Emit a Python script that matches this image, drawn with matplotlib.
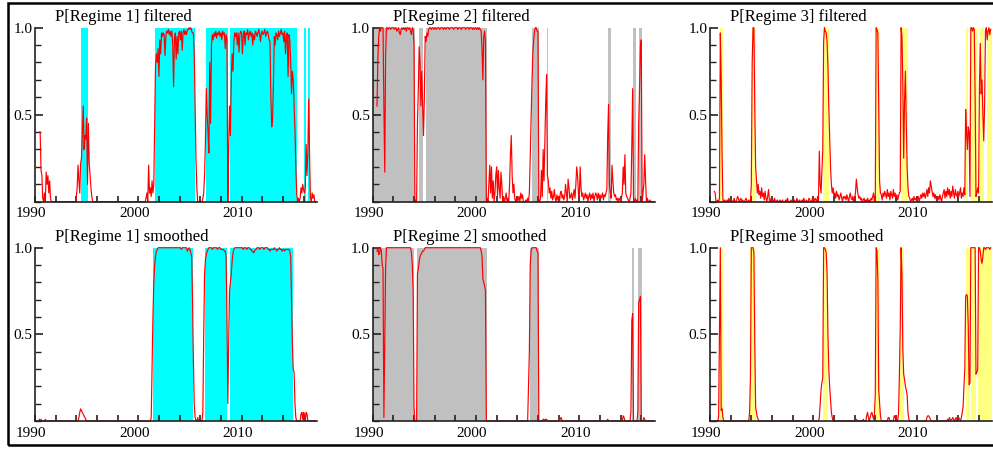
import numpy as np
import matplotlib
matplotlib.use("Agg")
import matplotlib.pyplot as plt
from matplotlib.ticker import MultipleLocator
from matplotlib.transforms import ScaledTranslation
from matplotlib.patches import Rectangle

plt.rcParams["font.family"] = ["Liberation Serif", "DejaVu Serif"]

# monthly probabilities, first observation 1990(6), last 2017(3)
start_year, start_month = 1990, 6

p1_filtered = [
    0.40, 0.40, 0.18, 0.15, 0.02, 0, 0.05,
    0, 0.17, 0.10, 0.15, 0.05, 0.12, 0.02, 0, 0, 0, 0, 0,
    0, 0, 0, 0, 0, 0, 0, 0, 0, 0, 0, 0,
    0, 0, 0, 0, 0, 0, 0, 0, 0, 0, 0, 0,
    0.03, 0.08, 0.21, 0.12, 0.05, 0.22, 0.25, 0.40, 0.55, 0.30, 0.38, 0.36,
    0.48, 0.10, 0.45, 0.22, 0.15, 0.08, 0.03, 0, 0, 0, 0, 0,
    0, 0, 0, 0, 0, 0, 0, 0, 0, 0, 0, 0,
    0, 0, 0, 0, 0, 0, 0, 0, 0, 0, 0, 0,
    0, 0, 0, 0, 0, 0, 0, 0, 0, 0, 0, 0,
    0, 0, 0, 0, 0, 0, 0, 0, 0, 0, 0, 0,
    0, 0, 0, 0, 0, 0, 0, 0, 0, 0.02, 0.05, 0,
    0.21, 0.05, 0.08, 0.03, 0.12, 0.05, 0.10, 0.45, 0.78, 0.85, 0.80, 0.88,
    0.72, 0.93, 0.85, 0.97, 0.95, 0.97, 0.96, 0.84, 0.95, 0.98, 0.97, 0.99,
    0.96, 0.98, 0.95, 0.98, 0.90, 0.66, 0.93, 0.97, 0.82, 0.95, 0.85, 0.97,
    0.98, 0.93, 0.98, 0.87, 0.97, 0.99, 0.96, 0.98, 0.96, 0.99, 0.99, 1.00,
    0.99, 1.00, 0.98, 0.97, 0.97, 0.85, 0.55, 0.25, 0.08, 0, 0, 0,
    0, 0, 0, 0.02, 0.05, 0.15, 0.35, 0.65, 0.50, 0.40, 0.28, 0.80,
    0.45, 0.90, 0.96, 0.93, 0.97, 0.95, 0.98, 0.94, 0.97, 0.96, 0.98, 0.95,
    0.97, 0.93, 0.98, 0.96, 0.97, 0.88, 0.96, 0.93, 0, 0.30, 0.55, 0.38,
    0.70, 0.85, 0.75, 0.92, 0.97, 0.95, 0.97, 0.90, 0.97, 0.86, 0.96, 0.98,
    0.97, 0.85, 0.96, 0.98, 0.90, 0.97, 0.96, 0.99, 0.93, 0.97, 0.98, 0.95,
    0.97, 0.90, 0.96, 0.93, 0.98, 0.97, 0.95, 0.97, 0.99, 0.96, 0.92, 0.97,
    0.98, 0.96, 0.97, 0.99, 0.95, 0.97, 0.98, 0.96, 0.93, 0.92, 0.60, 0.43,
    0.48, 0.68, 0.95, 0.90, 0.97, 0.96, 0.93, 0.98, 0.95, 0.97, 0.99, 0.96,
    0.97, 0.92, 0.98, 0.85, 0.95, 0.97, 0.72, 0.96, 0.93, 0.81, 0.62, 0.75,
    0.70, 0.55, 0.41, 0.20, 0.05, 0, 0.02, 0, 0.02, 0.08, 0.05, 0.10,
    0.07, 0.05, 0.08, 0.33, 0.15, 0.30, 0.59, 0.25, 0.02, 0, 0.05, 0.02,
    0.04, 0, 0,
]

p1_smoothed = [
    0.01, 0, 0.01, 0, 0, 0, 0,
    0.01, 0, 0, 0, 0, 0, 0, 0, 0, 0, 0, 0,
    0, 0, 0, 0, 0, 0, 0, 0, 0, 0, 0, 0,
    0, 0, 0, 0, 0, 0, 0, 0, 0, 0, 0, 0,
    0, 0, 0, 0.02, 0.05, 0.07, 0.06, 0.05, 0.04, 0.03, 0.02, 0.01,
    0, 0, 0, 0, 0, 0, 0, 0, 0, 0, 0, 0,
    0, 0, 0, 0, 0, 0, 0, 0, 0, 0, 0, 0,
    0, 0, 0, 0, 0, 0, 0, 0, 0, 0, 0, 0,
    0, 0, 0, 0, 0, 0, 0, 0, 0, 0, 0, 0,
    0, 0, 0, 0, 0, 0, 0, 0, 0, 0, 0, 0,
    0, 0, 0, 0, 0, 0, 0, 0, 0, 0, 0, 0,
    0, 0, 0, 0.02, 0.30, 0.60, 0.80, 0.90, 0.95, 0.98, 0.99, 1.00,
    1.00, 1.00, 1.00, 1.00, 1.00, 1.00, 1.00, 1.00, 1.00, 1.00, 1.00, 1.00,
    1.00, 1.00, 1.00, 1.00, 1.00, 1.00, 1.00, 1.00, 1.00, 1.00, 1.00, 1.00,
    1.00, 1.00, 0.99, 1.00, 1.00, 1.00, 1.00, 1.00, 1.00, 0.98, 0.99, 1.00,
    0.99, 0.97, 0.95, 0.70, 0.35, 0.10, 0.02, 0, 0, 0.02, 0, 0,
    0, 0, 0, 0.05, 0.50, 0.85, 0.93, 0.96, 0.98, 0.99, 1.00, 1.00,
    1.00, 1.00, 0.99, 1.00, 1.00, 1.00, 1.00, 1.00, 0.99, 1.00, 1.00, 1.00,
    0.99, 0.99, 0.99, 0.99, 0.98, 0.98, 0.95, 0.60, 0.10, 0.45, 0.75, 0.80,
    0.85, 0.92, 0.97, 0.99, 1.00, 1.00, 1.00, 1.00, 1.00, 1.00, 1.00, 1.00,
    1.00, 1.00, 0.99, 1.00, 1.00, 1.00, 0.99, 1.00, 1.00, 1.00, 0.99, 0.99,
    0.98, 0.98, 0.97, 0.98, 0.99, 0.99, 1.00, 1.00, 1.00, 0.99, 1.00, 1.00,
    1.00, 1.00, 0.99, 1.00, 1.00, 1.00, 1.00, 0.99, 0.99, 0.98, 0.99, 0.99,
    0.99, 0.99, 1.00, 0.99, 0.99, 0.98, 0.99, 0.99, 1.00, 0.99, 0.99, 0.98,
    0.99, 0.99, 0.98, 0.99, 0.99, 0.99, 0.99, 0.99, 0.98, 0.95, 0.70, 0.45,
    0.30, 0.28, 0.10, 0.02, 0, 0, 0, 0, 0, 0.04, 0.05, 0.01,
    0.05, 0.04, 0, 0.05, 0.04, 0, 0, 0, 0, 0, 0, 0,
    0, 0, 0,
]

p2_filtered = [
    0.55, 0.82, 0.95, 1.00, 0.98, 1.00, 1.00,
    1.00, 0.55, 0.17, 0.85, 1.00, 1.00, 0.99, 1.00, 1.00, 0.99, 1.00, 1.00,
    1.00, 0.99, 1.00, 1.00, 0.98, 0.99, 1.00, 0.97, 0.96, 0.99, 1.00, 0.99,
    1.00, 0.99, 1.00, 0.98, 1.00, 1.00, 0.99, 1.00, 0.98, 0.96, 1.00, 0.99,
    0.90, 0.02, 0, 0, 0.45, 0.65, 0.89, 0.80, 0.55, 0.75, 0.55, 0.38,
    0.60, 0.95, 0.92, 0.97, 0.95, 0.99, 1.00, 1.00, 0.99, 1.00, 1.00, 0.99,
    1.00, 1.00, 0.99, 1.00, 1.00, 1.00, 0.99, 1.00, 1.00, 1.00, 0.99, 1.00,
    1.00, 0.99, 1.00, 1.00, 1.00, 0.99, 1.00, 1.00, 1.00, 1.00, 0.99, 1.00,
    1.00, 1.00, 1.00, 0.99, 1.00, 1.00, 1.00, 0.99, 1.00, 1.00, 1.00, 1.00,
    0.99, 1.00, 1.00, 1.00, 0.99, 1.00, 1.00, 1.00, 0.99, 1.00, 0.99, 1.00,
    1.00, 0.99, 1.00, 0.99, 1.00, 0.99, 0.98, 0.88, 0.70, 0.95, 0.98, 0.92,
    0, 0.02, 0, 0.10, 0.21, 0.05, 0.20, 0.02, 0.12, 0, 0.05, 0.15,
    0.20, 0.03, 0.18, 0.08, 0.02, 0.17, 0.10, 0, 0.03, 0, 0.02, 0.05,
    0, 0.02, 0, 0.10, 0.27, 0.38, 0.15, 0.05, 0.10, 0.02, 0, 0.02,
    0, 0.01, 0.03, 0, 0.05, 0.02, 0.04, 0, 0, 0, 0.01, 0,
    0.02, 0, 0.05, 0.26, 0.45, 0.68, 0.85, 0.93, 0.98, 1.00, 1.00, 0.98,
    0.98, 0, 0, 0.02, 0.18, 0.03, 0.30, 0.12, 0.35, 0.57, 0.73, 0.15,
    0.12, 0.05, 0.08, 0.02, 0.06, 0.01, 0.03, 0.07, 0.02, 0, 0.04, 0.01,
    0.03, 0, 0.05, 0.06, 0.02, 0.04, 0.01, 0.03, 0.10, 0.05, 0, 0.13,
    0.08, 0.02, 0.03, 0.05, 0.01, 0.04, 0.07, 0.02, 0.10, 0.20, 0.15, 0.05,
    0.02, 0.20, 0.08, 0.03, 0.05, 0.01, 0.03, 0.05, 0.02, 0.04, 0, 0.03,
    0.05, 0.01, 0.04, 0.02, 0.05, 0, 0.03, 0.05, 0.04, 0.01, 0.05, 0.02,
    0.04, 0.02, 0.03, 0.05, 0.01, 0.04, 0.03, 0.05, 0.07, 0.38, 0.56, 0.10,
    0.05, 0.02, 0.21, 0.12, 0.05, 0.03, 0.04, 0.01, 0.02, 0, 0.02, 0.01,
    0, 0.02, 0.05, 0.20, 0.10, 0.27, 0.05, 0.03, 0.02, 0.01, 0, 0.02,
    0.05, 0.32, 0.65, 0, 0, 0.02, 0, 0.01, 0, 0.45, 0.65, 0.89,
    0.93, 0, 0.05, 0.10, 0.27, 0.12, 0, 0.02, 0, 0, 0.01, 0,
    0, 0, 0,
]

p2_smoothed = [
    0.98, 1.00, 0.96, 0.97, 1.00, 0.98, 0.90,
    0.88, 0.02, 0.45, 0.88, 1.00, 1.00, 1.00, 1.00, 1.00, 1.00, 1.00, 1.00,
    1.00, 1.00, 1.00, 1.00, 1.00, 1.00, 1.00, 1.00, 1.00, 1.00, 1.00, 1.00,
    1.00, 1.00, 1.00, 1.00, 1.00, 1.00, 1.00, 1.00, 1.00, 0.97, 0.90, 0.75,
    0.08, 0, 0, 0, 0.85, 0.88, 0.92, 0.95, 0.96, 0.97, 0.98, 0.98,
    0.99, 1.00, 1.00, 1.00, 1.00, 1.00, 1.00, 1.00, 1.00, 1.00, 1.00, 1.00,
    1.00, 1.00, 1.00, 1.00, 1.00, 1.00, 1.00, 1.00, 1.00, 1.00, 1.00, 1.00,
    1.00, 1.00, 1.00, 1.00, 1.00, 1.00, 1.00, 1.00, 1.00, 1.00, 1.00, 1.00,
    1.00, 1.00, 1.00, 1.00, 1.00, 1.00, 1.00, 1.00, 1.00, 1.00, 1.00, 1.00,
    1.00, 1.00, 1.00, 1.00, 1.00, 1.00, 1.00, 1.00, 1.00, 1.00, 1.00, 1.00,
    1.00, 1.00, 1.00, 1.00, 1.00, 1.00, 0.98, 0.95, 0.82, 0.80, 0.78, 0.75,
    0, 0, 0, 0, 0, 0, 0, 0, 0, 0, 0, 0,
    0, 0, 0, 0, 0, 0, 0, 0, 0, 0, 0, 0,
    0, 0, 0, 0, 0, 0, 0, 0, 0, 0, 0, 0,
    0, 0, 0, 0, 0, 0, 0, 0, 0, 0, 0, 0,
    0, 0.20, 0.40, 0.90, 0.98, 1.00, 1.00, 1.00, 1.00, 1.00, 1.00, 0.98,
    0.97, 0, 0, 0, 0, 0, 0.01, 0.01, 0, 0.01, 0.01, 0,
    0, 0, 0, 0, 0, 0, 0, 0, 0, 0, 0, 0,
    0, 0.02, 0.01, 0.02, 0, 0, 0, 0, 0, 0, 0, 0,
    0, 0, 0, 0, 0, 0, 0, 0, 0, 0, 0, 0,
    0, 0, 0, 0, 0, 0, 0, 0, 0, 0, 0, 0,
    0, 0, 0, 0, 0, 0, 0, 0, 0, 0, 0, 0,
    0, 0, 0, 0, 0, 0, 0, 0, 0, 0.01, 0, 0,
    0, 0, 0, 0, 0, 0, 0, 0, 0, 0, 0, 0,
    0, 0, 0, 0.03, 0.02, 0, 0, 0, 0, 0, 0, 0,
    0.05, 0.58, 0.62, 0, 0, 0, 0, 0, 0.05, 0.68, 0.70, 0.72,
    0, 0, 0, 0.02, 0.01, 0, 0, 0, 0, 0, 0, 0,
    0, 0, 0,
]

p3_filtered = [
    0.06, 0.05, 0, 0, 0.01, 0, 0.02,
    0.97, 0.71, 0.27, 0.01, 0, 0.01, 0, 0, 0.01, 0, 0.02, 0,
    0, 0.01, 0, 0, 0.02, 0, 0, 0.01, 0.03, 0.02, 0, 0.01,
    0.02, 0, 0.01, 0, 0, 0.01, 0.02, 0, 0, 0.01, 0, 0,
    0.10, 0.80, 1.00, 1.00, 0.55, 0.20, 0.12, 0.05, 0.10, 0.04, 0.06, 0.02,
    0.08, 0.03, 0.05, 0.01, 0.06, 0.02, 0, 0.03, 0.07, 0.01, 0, 0.02,
    0, 0.01, 0, 0.02, 0, 0, 0.01, 0, 0, 0.01, 0, 0,
    0.01, 0, 0, 0, 0.01, 0, 0.02, 0, 0, 0, 0.01, 0,
    0, 0, 0.01, 0, 0, 0.02, 0, 0, 0.01, 0, 0, 0.01,
    0, 0.02, 0, 0, 0.01, 0, 0, 0.02, 0.01, 0, 0, 0.02,
    0.01, 0, 0.02, 0.01, 0, 0.03, 0, 0.29, 0.10, 0.05, 0.18, 0.30,
    0.92, 1.00, 0.98, 0.97, 0.92, 0.78, 0.55, 0.38, 0.20, 0.10, 0.05, 0.08,
    0.03, 0.05, 0.02, 0.06, 0.03, 0.04, 0.01, 0.03, 0.05, 0.02, 0, 0.03,
    0.02, 0.03, 0.01, 0.04, 0.02, 0, 0.03, 0.05, 0.02, 0.01, 0.03, 0,
    0.02, 0.05, 0.13, 0.08, 0.04, 0.02, 0.03, 0.01, 0.02, 0, 0.01, 0.02,
    0, 0.01, 0, 0.02, 0, 0.01, 0, 0.02, 0.01, 0.03, 0.05, 0,
    0.02, 1.00, 0.99, 0.97, 0.56, 0.12, 0.05, 0.04, 0.01, 0.05, 0.03, 0.06,
    0.04, 0.02, 0.07, 0.03, 0.05, 0.01, 0.06, 0.04, 0.02, 0.07, 0.03, 0.05,
    0.02, 0.04, 0.01, 0.03, 0.05, 0.06, 1.00, 0.95, 0.67, 0.25, 0.58, 0.75,
    0.45, 0.20, 0.08, 0.03, 0.02, 0, 0.01, 0.02, 0, 0.03, 0.01, 0.02,
    0.01, 0.02, 0.03, 0, 0.02, 0.04, 0.02, 0.05, 0.03, 0.05, 0.02, 0.04,
    0.07, 0.03, 0.08, 0.05, 0.12, 0.09, 0.06, 0.03, 0.05, 0.02, 0.04, 0.01,
    0.02, 0.03, 0.01, 0.04, 0.02, 0, 0.03, 0.05, 0.07, 0.02, 0.06, 0.03,
    0.08, 0.04, 0.07, 0.02, 0.06, 0.03, 0.09, 0.05, 0.02, 0.07, 0.04, 0.03,
    0.06, 0.03, 0.05, 0.08, 0.02, 0.05, 0.03, 0.08, 0.04, 0.53, 0.40, 0.30,
    0.43, 0.40, 0.03, 1.00, 1.00, 0.98, 1.00, 0.99, 0.60, 0.03, 0.05, 0.08,
    0.05, 0.66, 0.91, 0.62, 0.70, 0.50, 0.35, 0.55, 0.98, 1.00, 0.93, 0.98,
    1.00, 0.96, 0.99,
]

p3_smoothed = [
    0, 0, 0, 0, 0, 0.02, 0.54,
    1.00, 0.06, 0.07, 0.02, 0, 0, 0, 0, 0, 0, 0, 0,
    0, 0, 0, 0, 0, 0, 0, 0, 0, 0, 0, 0,
    0, 0, 0, 0, 0, 0, 0, 0, 0, 0, 0.05, 0.26,
    1.00, 1.00, 1.00, 0.97, 0.45, 0.08, 0.05, 0.02, 0.01, 0, 0, 0,
    0, 0, 0, 0, 0, 0, 0, 0, 0, 0, 0, 0,
    0, 0, 0, 0, 0, 0, 0, 0, 0, 0, 0, 0,
    0, 0, 0, 0, 0, 0, 0, 0, 0, 0, 0, 0,
    0, 0, 0, 0, 0, 0, 0, 0, 0, 0, 0, 0,
    0, 0, 0, 0, 0, 0, 0, 0, 0, 0, 0, 0,
    0, 0, 0, 0, 0, 0, 0, 0.02, 0.10, 0.18, 0.22, 0.25,
    1.00, 1.00, 0.99, 0.97, 0.85, 0.50, 0.30, 0.20, 0.12, 0.05, 0.02, 0,
    0, 0, 0, 0, 0, 0, 0, 0, 0, 0, 0, 0,
    0, 0, 0, 0, 0, 0, 0, 0, 0, 0, 0, 0,
    0, 0, 0.01, 0, 0, 0, 0, 0, 0, 0, 0.01, 0,
    0, 0, 0.03, 0.05, 0.02, 0, 0.02, 0.04, 0.05, 0.03, 0.01, 0.04,
    0.15, 1.00, 0.98, 0.82, 0.18, 0.10, 0.03, 0, 0, 0, 0, 0,
    0, 0, 0, 0.02, 0.02, 0, 0, 0, 0, 0, 0.03, 0.02,
    0.03, 0, 0, 0.04, 0.26, 0.54, 1.00, 0.85, 0.41, 0.27, 0.24, 0.20,
    0.18, 0.15, 0.05, 0.01, 0, 0, 0, 0, 0, 0, 0, 0,
    0, 0, 0, 0, 0, 0, 0, 0, 0, 0, 0, 0,
    0.02, 0.03, 0.03, 0.02, 0.01, 0, 0, 0, 0, 0, 0, 0,
    0, 0, 0, 0, 0, 0, 0, 0, 0, 0, 0, 0,
    0.01, 0, 0.02, 0.01, 0, 0.01, 0.02, 0.01, 0, 0.01, 0.02, 0,
    0.01, 0.02, 0.01, 0, 0.02, 0.05, 0.08, 0.20, 0.30, 0.72, 0.73, 0.72,
    0.55, 0.21, 0.22, 1.00, 1.00, 1.00, 1.00, 1.00, 1.00, 0.27, 0.28, 0.30,
    1.00, 1.00, 0.98, 0.93, 0.91, 0.95, 1.00, 1.00, 0.99, 1.00, 1.00, 1.00,
    1.00, 0.99, 1.00,
]

# periods classified to each regime (shaded bands), in years
p1_filtered_bands = [(1994.45, 1995.15), (2001.6, 2005.52), (2006.55, 2008.65),
                     (2008.87, 2015.4), (2016.03, 2016.2), (2016.42, 2016.62)]
p1_smoothed_bands = [(2001.4, 2005.32), (2006.42, 2008.6), (2008.87, 2015.0)]
p2_filtered_bands = [(1990.0, 1994.1), (1994.5, 1994.9), (1995.16, 2001.03),
                     (2005.4, 2006.13), (2006.84, 2007.0), (2012.8, 2013.03),
                     (2015.23, 2015.45), (2015.77, 2016.1)]
p2_smoothed_bands = [(1990.0, 1994.0), (1994.32, 2001.03), (2005.23, 2006.13),
                     (2015.13, 2015.32), (2015.7, 2016.03)]
p3_filtered_bands = [(1990.97, 1991.3), (1994.03, 1994.42), (2000.97, 2001.5),
                     (2006.1, 2006.42), (2008.5, 2009.15), (2014.75, 2015.0),
                     (2015.3, 2015.8), (2016.15, 2016.55), (2016.77, 2017.3)]
p3_smoothed_bands = [(1990.97, 1991.23), (1993.87, 1994.45), (2000.97, 2001.45),
                     (2006.06, 2006.42), (2008.42, 2008.8), (2014.8, 2015.16),
                     (2015.26, 2015.78), (2015.95, 2017.3)]

titles = ["P[Regime 1] filtered", "P[Regime 2] filtered", "P[Regime 3] filtered",
          "P[Regime 1] smoothed", "P[Regime 2] smoothed", "P[Regime 3] smoothed"]
band_colors = ["#00FFFF", "#C0C0C0", "#FFFF80"]

panels = [
    (p1_filtered, p1_filtered_bands), (p2_filtered, p2_filtered_bands), (p3_filtered, p3_filtered_bands),
    (p1_smoothed, p1_smoothed_bands), (p2_smoothed, p2_smoothed_bands), (p3_smoothed, p3_smoothed_bands),
]

W, H = 993, 450
fig = plt.figure(figsize=(W / 100, H / 100), dpi=100)

col_left = [35, 372.7, 710]     # pixel x of the y axis
row_top = [27.7, 247.7]         # pixel y of 1.0
row_bottom = [201.7, 421.0]     # pixel y of 0
ax_width = 282
xmin, xmax = 1990, 2017.3

for k, ((values, bands), title) in enumerate(zip(panels, titles)):
    r, c = divmod(k, 3)
    ax = fig.add_axes([col_left[c] / W, 1 - row_bottom[r] / H,
                       ax_width / W, (row_bottom[r] - row_top[r]) / H])
    t = start_year + (start_month - 1 + np.arange(len(values))) / 12
    for a, b in bands:
        ax.axvspan(a, b, color=band_colors[c], lw=0, zorder=1)
    ax.plot(t, values, color="red", lw=0.85, zorder=3, clip_on=False)

    ax.set_xlim(xmin, xmax)
    ax.set_ylim(0, 1)
    for side in ("top", "right"):
        ax.spines[side].set_visible(False)
    for side in ("left", "bottom"):
        ax.spines[side].set_linewidth(1.2)
        ax.spines[side].set_color("#222222")
        ax.spines[side].set_zorder(4)

    xt = np.arange(1990, 2018, 2)
    ax.set_xticks(xt)
    ax.set_xticklabels([str(y) if y % 10 == 0 else "" for y in xt])
    ax.set_yticks([0.5, 1.0])
    ax.set_yticklabels(["0.5", "1.0"])
    ax.yaxis.set_minor_locator(MultipleLocator(0.1))
    ax.tick_params(axis="x", direction="in", length=4, width=1.2,
                   color="#222222", labelsize=11, pad=4)
    ax.tick_params(axis="y", which="major", direction="in", length=6, width=1.2,
                   color="#222222", labelsize=11, pad=2)
    ax.tick_params(axis="y", which="minor", direction="in", length=4, width=1.0,
                   color="#222222")
    shift = ScaledTranslation(-4 / 100, 0, fig.dpi_scale_trans)
    for lab in ax.get_xticklabels():
        lab.set_transform(lab.get_transform() + shift)

    ax.annotate(title, xy=(0, 1), xycoords="axes fraction",
                xytext=(14.4, 4.5), textcoords="offset points",
                ha="left", va="baseline", fontsize=12)

# frame round the whole picture
fig.add_artist(Rectangle((8 / W, 1 - 445 / H), 1.1, (445 - 3) / H,
                         transform=fig.transFigure, fill=False,
                         edgecolor="black", lw=1.8))

fig.savefig("out.png", dpi=100)
